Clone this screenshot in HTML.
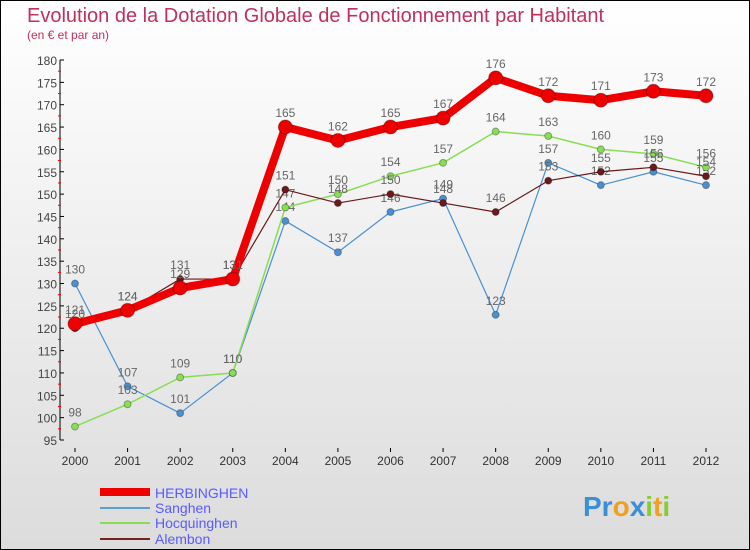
<!DOCTYPE html>
<html><head><meta charset="utf-8"><style>
body{margin:0;width:750px;height:550px;overflow:hidden;font-family:"Liberation Sans",sans-serif}
svg{display:block}
</style></head><body>
<svg id="c" width="750" height="550">
<defs><linearGradient id="bg" x1="0" y1="0" x2="0" y2="1"><stop offset="0" stop-color="#ffffff"/><stop offset="1" stop-color="#dcdcdc"/></linearGradient></defs>
<rect x="0.5" y="0.5" width="749" height="549" fill="url(#bg)" stroke="#000"/>
<text x="27" y="22" font-size="20" font-weight="300" fill="#c0305a">Evolution de la Dotation Globale de Fonctionnement par Habitant</text>
<text x="27" y="39" font-size="12" fill="#c0305a">(en € et par an)</text>
<g id="axes"></g><g id="series"></g>
<g>
<line x1="100" y1="492" x2="150" y2="492" stroke="#e00" stroke-width="8"/>
<text x="155" y="498" font-size="14" fill="#5a5aff">HERBINGHEN</text>
<line x1="100" y1="508" x2="150" y2="508" stroke="#5aa0d8" stroke-width="2"/>
<text x="155" y="513" font-size="14" fill="#5a5aff">Sanghen</text>
<line x1="100" y1="523" x2="150" y2="523" stroke="#88dd55" stroke-width="2"/>
<text x="155" y="528" font-size="14" fill="#5a5aff">Hocquinghen</text>
<line x1="100" y1="539" x2="150" y2="539" stroke="#7a2020" stroke-width="2"/>
<text x="155" y="544" font-size="14" fill="#5a5aff">Alembon</text>
</g>
<text x="583" y="516" font-size="28" font-weight="bold"><tspan fill="#3a8fd8">Pr</tspan><tspan fill="#f0a020">o</tspan><tspan fill="#3a8fd8">x</tspan><tspan fill="#88cc33">i</tspan><tspan fill="#f0a020">t</tspan><tspan fill="#88cc33">i</tspan></text>
</svg>
<script>
const years=[2000,2001,2002,2003,2004,2005,2006,2007,2008,2009,2010,2011,2012];
const herbinghen=[121,124,129,131,165,162,165,167,176,172,171,173,172];
const sanghen=[130,107,101,110,144,137,146,149,123,157,152,155,152];
const hocquinghen=[98,103,109,110,147,150,154,157,164,163,160,159,156];
const alembon=[120,124,131,131,151,148,150,148,146,153,155,156,154];
const yTicks=[95,100,105,110,115,120,125,130,135,140,145,150,155,160,165,170,175,180];
const NS="http://www.w3.org/2000/svg";
const x=i=>75+i*(706-75)/12;
const y=v=>440-(v-95)*(380/85);
function mk(t,a,p){const e=document.createElementNS(NS,t);for(const k in a)e.setAttribute(k,a[k]);p.appendChild(e);return e;}
const ax=document.getElementById('axes');
const yl=mk('line',{x1:60,y1:y(180),x2:60,y2:y(95),stroke:'#000'},ax);


yTicks.forEach((v,k)=>{
 const t=mk('text',{x:57,y:y(v)+5,'font-size':12,fill:'#444','text-anchor':'end'},ax);t.textContent=v;
 
 
 mk('line',{x1:60,y1:y(v),x2:64,y2:y(v),stroke:'#000'},ax);
 if(k<yTicks.length-1)mk('line',{x1:58,y1:y(v+2.5),x2:61,y2:y(v+2.5),stroke:'#e00'},ax);
});
years.forEach((yr,i)=>{
 mk('line',{x1:x(i),y1:448,x2:x(i),y2:452,stroke:'#000'},ax);
 const t=mk('text',{x:x(i),y:465,'font-size':12,fill:'#333','text-anchor':'middle'},ax);t.textContent=yr;
 
 
});
const sg=document.getElementById('series');
function draw(d,col,w,r,name){
 const g=mk('g',{},sg);
 
 
 const p=mk('polyline',{points:d.map((v,i)=>x(i)+','+y(v)).join(' '),fill:'none',stroke:col,'stroke-width':w,'stroke-linejoin':'round'},g);
 
 
 d.forEach((v,i)=>{
  const c=mk('circle',{cx:x(i),cy:y(v),r:r,fill:col,stroke:'rgba(0,0,0,0.3)'},g);
  
  
  const t=mk('text',{x:x(i),y:y(v)-10,'font-size':12,fill:'#666','text-anchor':'middle'},g);t.textContent=v;
  
  
 });
}
draw(sanghen,'#4a90d0',1.2,3.5,'series-sanghen');
draw(hocquinghen,'#88dd55',1.5,3.5,'series-hocquinghen');
draw(alembon,'#6a1a1a',1.2,3.5,'series-alembon');
draw(herbinghen,'#ee0000',8,7,'series-herbinghen');
</script>
</body></html>
